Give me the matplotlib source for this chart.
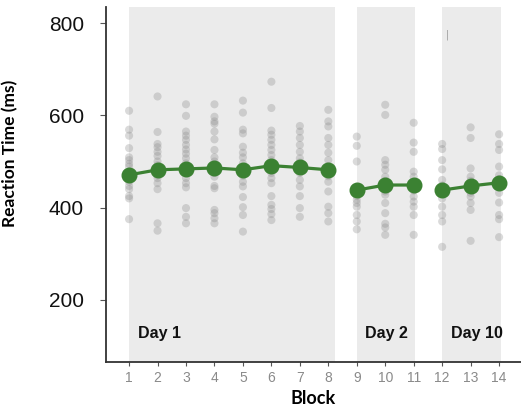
import matplotlib
matplotlib.use("Agg")
import matplotlib.pyplot as plt

# blocks and the days they belong to
blocks = list(range(1, 15))
day_groups = [[1, 2, 3, 4, 5, 6, 7, 8], [9, 10, 11], [12, 13, 14]]
day_labels = ["Day 1", "Day 2", "Day 10"]
day_spans = [(1, 8.25), (9, 11.05), (12, 14.05)]

# mean reaction time per block (ms)
mean_rt = [471, 482, 484, 486, 482, 491, 487, 482, 438, 449, 449, 438, 447, 454]

# individual subject reaction times per block (ms)
subject_rt = [
    [610, 569, 556, 529, 509, 503, 495, 489, 478, 472, 467, 462, 456, 447, 440, 425, 420, 375],
    [641, 564, 538, 531, 521, 512, 500, 492, 486, 475, 470, 464, 453, 440, 366, 350],
    [624, 599, 565, 556, 547, 536, 526, 517, 507, 496, 488, 475, 464, 453, 444, 399, 380, 366],
    [624, 597, 587, 582, 565, 548, 525, 509, 500, 493, 480, 475, 467, 447, 442, 395, 388, 377, 366],
    [632, 606, 569, 561, 532, 519, 509, 496, 488, 475, 469, 456, 446, 423, 401, 384, 348],
    [673, 616, 567, 558, 547, 536, 525, 514, 503, 495, 483, 475, 464, 453, 425, 406, 397, 386, 373],
    [577, 565, 551, 536, 521, 507, 498, 489, 480, 475, 460, 446, 425, 399, 380],
    [612, 587, 576, 551, 536, 519, 503, 490, 475, 468, 456, 435, 402, 388, 370],
    [554, 534, 500, 445, 432, 425, 417, 410, 402, 384, 370, 353],
    [623, 601, 503, 493, 482, 467, 458, 440, 435, 428, 410, 388, 365, 357, 341],
    [584, 541, 521, 478, 467, 455, 445, 437, 424, 413, 402, 384, 341],
    [538, 527, 503, 483, 460, 448, 430, 420, 402, 384, 370, 315],
    [574, 551, 485, 467, 458, 440, 432, 424, 410, 395, 328],
    [559, 538, 525, 489, 470, 462, 445, 432, 411, 384, 375, 336],
]

yticks = [200, 400, 600, 800]

fig = plt.figure(figsize=(5.21, 4.11), dpi=100)
ax = fig.add_axes([0.2035, 0.12, 0.7965, 0.863])

# shaded day panels
for (x0, x1) in day_spans:
    ax.axvspan(x0, x1, color="#ebebeb", zorder=0, lw=0)

# individual points
for b, vals in zip(blocks, subject_rt):
    ax.scatter([b] * len(vals), vals, s=34, color="#8c8c8c", alpha=0.32,
               edgecolors="none", zorder=2)

# mean line per day
green = "#3b8132"
for grp in day_groups:
    ys = [mean_rt[b - 1] for b in grp]
    ax.plot(grp, ys, color=green, lw=2.3, marker="o", markersize=10.5,
            markeredgecolor=green, zorder=3)

# day labels
for (x0, x1), lab in zip(day_spans, day_labels):
    ax.text(x0 + 0.3, 128, lab, fontsize=11.5, fontweight="bold",
            family="Liberation Sans", va="center", ha="left", color="#111111")

# stray mark in the Day 10 panel
ax.text(12.2, 775, "|", fontsize=7, color="#999999", ha="center", va="center")

ax.set_xlim(0.19, 14.77)
ax.set_ylim(66, 835)
ax.set_xticks(blocks)
ax.set_xticklabels([str(b) for b in blocks], family="Liberation Sans",
                   fontsize=10, color="#8a8a8a")
ax.set_yticks(yticks)
ax.set_yticklabels([str(v) for v in yticks], family="Liberation Sans",
                   fontsize=15, color="#111111")
ax.tick_params(axis="x", length=3, width=0.8, color="#555555", pad=4)
ax.tick_params(axis="y", length=4, width=0.8, color="#555555", pad=12)

for side in ["top", "right"]:
    ax.spines[side].set_visible(False)
for side in ["left", "bottom"]:
    ax.spines[side].set_color("#333333")
    ax.spines[side].set_linewidth(1.3)

ax.set_xlabel("Block", family="Lato", fontweight="bold", fontsize=13, labelpad=3)
ax.set_ylabel("Reaction Time (ms)", family="Lato", fontweight="bold", fontsize=12.5)
ax.yaxis.set_label_coords(-0.212, 0.587)

fig.savefig("out.png", dpi=100)
